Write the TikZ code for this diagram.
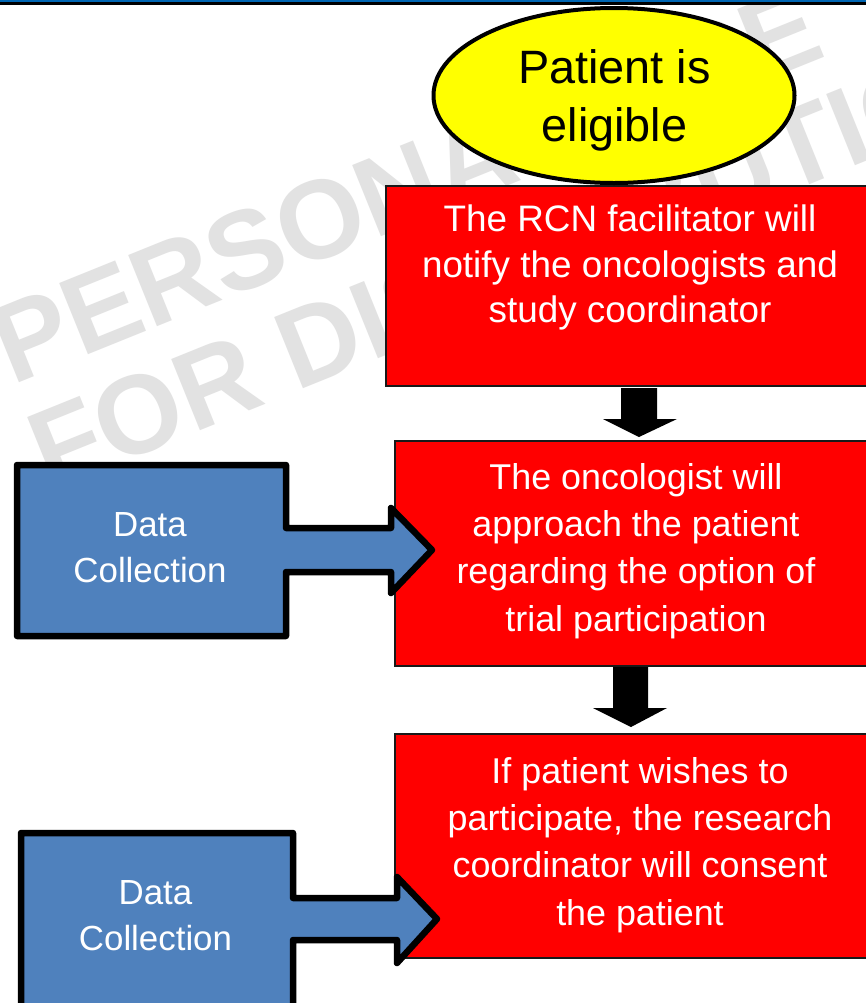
\documentclass[tikz,border=0pt]{standalone}
\usepackage{fontspec}
\setmainfont{Liberation Sans}
\usetikzlibrary{shapes.geometric}
\definecolor{dcblue}{HTML}{4F81BD}
\definecolor{stepred}{HTML}{FF0000}
\definecolor{eligyellow}{HTML}{FFFF00}
\definecolor{wmgray}{HTML}{E2E2E2}
\definecolor{topblue}{HTML}{0066B3}
\begin{document}
\begin{tikzpicture}[x=1bp,y=-1bp,
  redbox/.style={draw=black!90,line width=1.3bp,fill=stepred,inner sep=0pt,outer sep=0pt,anchor=north west},
  redtext/.style={text=white,align=center,inner sep=0pt,font=\fontsize{36}{47.5}\selectfont},
  bluetext/.style={text=white,align=center,inner sep=0pt,font=\fontsize{35}{46}\selectfont},
  bluearrow/.style={draw=black,line width=6.5bp,line join=round,fill=dcblue},
  downarrow/.style={fill=black},
  wmtext/.style={text=wmgray,inner sep=0pt,rotate=22,anchor=west,font=\fontsize{112}{112}\selectfont\bfseries}]
\useasboundingbox (0,0) rectangle (866,1003);
\clip (0,0) rectangle (866,1003);
\fill[white] (0,0) rectangle (866,1003);
% watermark
\node[wmtext] (wm1) at (-2,350) {PERSONAL USE};
\node[wmtext] (wm2) at (-212,556) {NOT FOR DISTRIBUTION};
% top frame
\fill[topblue] (0,0) rectangle (866,2);
\fill[black] (0,2) rectangle (866,5);
% red process boxes
\node[redbox,minimum width=484bp,minimum height=200bp] (box1) at (386,186) {};
\node[redbox,minimum width=475bp,minimum height=225bp] (box2) at (395,441) {};
\node[redbox,minimum width=475bp,minimum height=224bp] (box3) at (395,734) {};
\node[redtext,font=\fontsize{37}{45.5}\selectfont] (t1) at (630,267.5) {The RCN facilitator will\\notify the oncologists and\\study coordinator};
\node[redtext] (t2) at (636,551) {The oncologist will\\approach the patient\\regarding the option of\\trial participation};
\node[redtext] (t3) at (640,845) {If patient wishes to\\participate, the research\\coordinator will consent\\the patient};
% start ellipse
\node[ellipse,draw=black,line width=4bp,fill=eligyellow,minimum width=361bp,minimum height=175bp,inner sep=0pt] (start) at (614,95.5) {};
\node[align=center,inner sep=0pt,font=\fontsize{47}{58}\selectfont] (st) at (614.5,100) {Patient is\\eligible};
% down arrows between boxes
\fill[downarrow] (621,388) -- (657,388) -- (657,419) -- (677,419) -- (639,437) -- (603,419) -- (621,419) -- cycle;
\fill[downarrow] (613,667) -- (648,667) -- (648,708) -- (667,708) -- (631,727) -- (593,708) -- (613,708) -- cycle;
% data collection arrows
\draw[bluearrow] (17,465) -- (286,465) -- (286,528) -- (391,528) -- (391,508) -- (432,550) -- (391,593) -- (391,572) -- (286,572) -- (286,636) -- (17,636) -- cycle;
\node[bluetext] (dc1) at (150,547.5) {Data\\Collection};
\draw[bluearrow] (21,833) -- (293,833) -- (293,898) -- (397,898) -- (397,877) -- (437,919) -- (397,963) -- (397,940) -- (293,940) -- (293,1030) -- (21,1030) -- cycle;
\node[bluetext] (dc2) at (155.5,915.5) {Data\\Collection};
\end{tikzpicture}
\end{document}
